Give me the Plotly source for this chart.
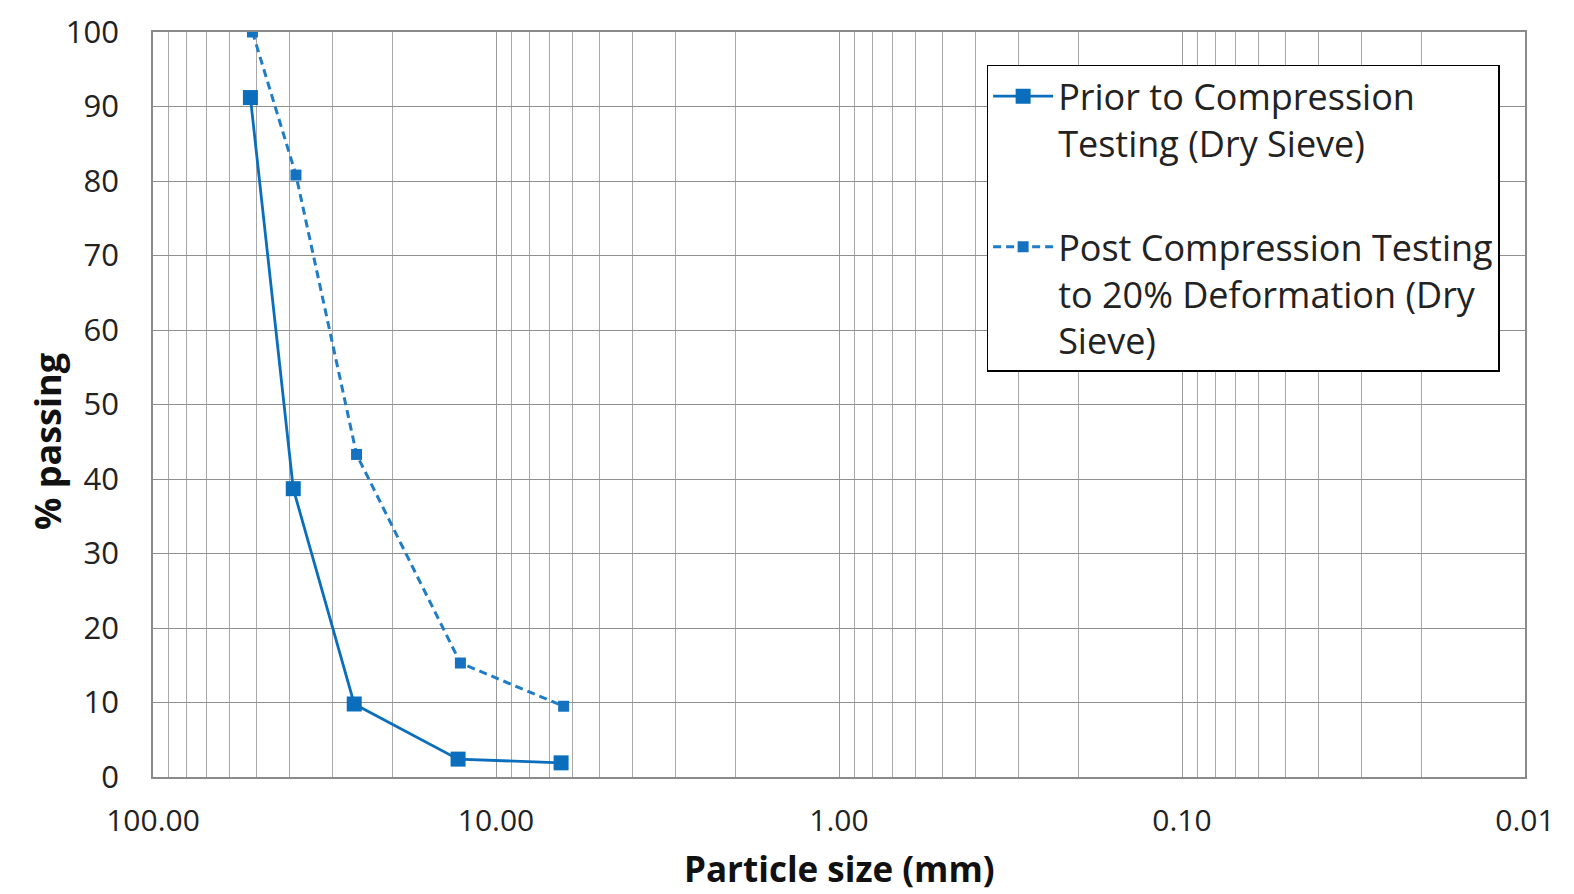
import plotly.graph_objects as go

# Data
prior_size_mm = [52.0, 39.0, 25.9, 12.9, 6.46]
prior_passing = [91.2, 38.7, 9.8, 2.4, 1.9]
post_size_mm = [51.3, 38.3, 25.5, 12.7, 6.35]
post_passing = [100.0, 80.8, 43.3, 15.3, 9.5]

x_tick_vals = [100, 10, 1, 0.1, 0.01]
x_tick_text = ["100.00", "10.00", "1.00", "0.10", "0.01"]
y_tick_vals = list(range(0, 101, 10))

prior_name = "Prior to Compression<br>Testing (Dry Sieve)"
post_name = "Post Compression Testing<br>to 20% Deformation (Dry<br>Sieve)"

minor_vals = [k * 10 ** e for e in range(-2, 2) for k in range(2, 10)]

FONT = "Open Sans"

fig = go.Figure()
fig.add_trace(go.Scatter(
    x=prior_size_mm, y=prior_passing, mode="lines+markers", name=prior_name,
    legendgroup="a",
    line=dict(color="#0A6EBD", width=2.8),
    marker=dict(symbol="square", size=15, color="#0A6EBD"),
))
fig.add_trace(go.Scatter(
    x=post_size_mm, y=post_passing, mode="lines+markers", name=post_name,
    legendgroup="b",
    line=dict(color="#1F7CC6", width=3, dash="8px,5px"),
    marker=dict(symbol="square", size=11, color="#1472C0"),
))

fig.update_layout(
    width=1566, height=886,
    margin=dict(l=145, r=49, t=24, b=117, autoexpand=False),
    paper_bgcolor="white", plot_bgcolor="white",
    font=dict(family=FONT, color="#222222"),
    showlegend=True,
    legend=dict(
        x=0.6076, y=0.956, xanchor="left", yanchor="top",
        bgcolor="white", bordercolor="black", borderwidth=1.5,
        font=dict(family=FONT, size=36, color="#222222"),
        valign="top", tracegroupgap=54, itemwidth=60,
    ),
    xaxis=dict(
        type="log", range=[2, -2], automargin=False,
        tickmode="array", tickvals=x_tick_vals, ticktext=x_tick_text,
        tickfont=dict(family=FONT, size=30, color="#222222"),
        ticks="", ticklabelstandoff=16, ticklabeloverflow="allow",
        showgrid=True, gridcolor="#9a9a9a", gridwidth=1.2,
        minor=dict(tickmode="array", tickvals=minor_vals, showgrid=True,
                   gridcolor="#a8a8a8", gridwidth=1, ticks=""),
        showline=True, linecolor="#8a8a8a", linewidth=1.5, mirror=True,
        zeroline=False,
    ),
    yaxis=dict(
        range=[0, 100], tickmode="array", tickvals=y_tick_vals, automargin=False,
        tickfont=dict(family=FONT, size=31, color="#222222"),
        ticks="", ticklabelstandoff=26, ticklabeloverflow="allow",
        showgrid=True, gridcolor="#8f8f8f", gridwidth=1.3,
        showline=True, linecolor="#8a8a8a", linewidth=1.5, mirror=True,
        zeroline=False,
    ),
    annotations=[
        dict(text="<b>Particle size (mm)</b>", xref="paper", yref="paper",
             x=0.5, y=-0.123, xanchor="center", yanchor="middle", showarrow=False,
             font=dict(family=FONT, size=35, color="#111111")),
        dict(text="<b>% passing</b>", xref="paper", yref="paper",
             x=-0.077, y=0.45, xanchor="center", yanchor="middle", showarrow=False,
             textangle=-90, font=dict(family=FONT, size=36, color="#111111")),
    ],
)

fig.write_html("out.html")
